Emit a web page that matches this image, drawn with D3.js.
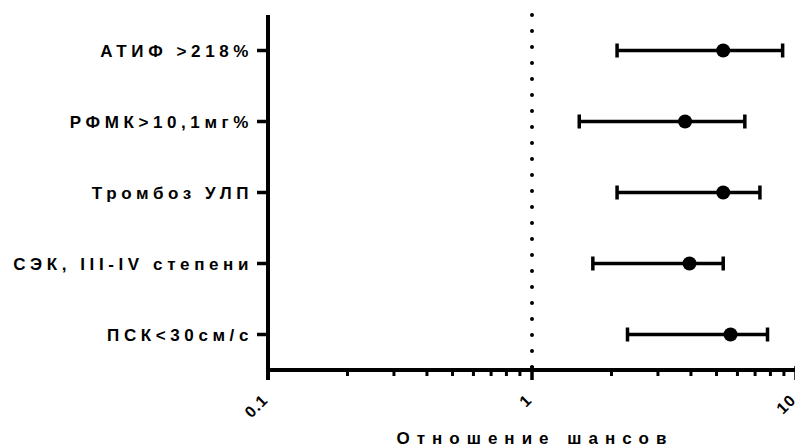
<!DOCTYPE html>
<html>
<head>
<meta charset="utf-8">
<script src="https://cdn.jsdelivr.net/npm/d3@7"></script>
<style>
  body { margin: 0; background: #fff; }
  svg { display: block; }
  text { font-family: "Liberation Sans", Arial, sans-serif; font-weight: bold; fill: #000; }
</style>
</head>
<body>
<svg id="chart" width="795" height="447"></svg>
<script>
// factors, odds ratios and 95% CI
const factors = ['АТИФ >218%', 'РФМК>10,1мг%', 'Тромбоз УЛП', 'СЭК, III-IV степени', 'ПСК<30см/с'];
const oddsRatio = [5.3, 3.8, 5.3, 3.95, 5.65];
const ciLow = [2.1, 1.51, 2.1, 1.7, 2.3];
const ciHigh = [8.9, 6.4, 7.3, 5.3, 7.8];
const xTickValues = [0.1, 1, 10];
const xTickLabels = ['0.1', '1', '10'];

const svg = d3.select('#chart');
const plotLeft = 268, plotRight = 796, plotTop = 15, plotBottom = 370;

const x = d3.scaleLog().domain([0.1, 10]).range([plotLeft, plotRight]);
const y = d3.scalePoint().domain(factors).range([plotTop, plotBottom]).padding(0.5);

const rows = factors.map((f, i) => {
	return {factor: f, or: oddsRatio[i], lo: ciLow[i], hi: ciHigh[i]};
});

// reference line at OR = 1
svg.append('line')
	.attr('x1', x(1)).attr('x2', x(1))
	.attr('y1', plotTop).attr('y2', plotBottom)
	.style('stroke', '#000')
	.style('stroke-width', 4)
	.style('stroke-linecap', 'round')
	.style('stroke-dasharray', '0 16');

// minor ticks
let minor = [];
[0.1, 1].forEach((d) => {
	for (let k = 2; k <= 9; k++) minor.push(d * k);
});

const xAxis = svg.append('g').attr('class', 'x-axis');

xAxis.selectAll('.minor')
	.data(minor)
	.enter().append('line')
	.attr('class', 'minor')
	.attr('x1', (d) => { return x(d); })
	.attr('x2', (d) => { return x(d); })
	.attr('y1', plotBottom)
	.attr('y2', plotBottom + 6)
	.style('stroke', '#000')
	.style('stroke-width', 3);

xAxis.selectAll('.major')
	.data(xTickValues)
	.enter().append('line')
	.attr('class', 'major')
	.attr('x1', (d) => { return x(d); })
	.attr('x2', (d) => { return x(d); })
	.attr('y1', plotBottom - 4)
	.attr('y2', plotBottom + 10)
	.style('stroke', '#000')
	.style('stroke-width', 3.5);

xAxis.append('line')
	.attr('x1', plotLeft - 2).attr('x2', 795)
	.attr('y1', plotBottom).attr('y2', plotBottom)
	.style('stroke', '#000')
	.style('stroke-width', 4);

xAxis.selectAll('.tick-label')
	.data(xTickValues)
	.enter().append('text')
	.attr('class', 'tick-label')
	.attr('transform', (d) => { return 'translate(' + (x(d) + 1) + ',' + (plotBottom + 31) + ') rotate(-45)'; })
	.attr('text-anchor', 'end')
	.style('font-size', '16px')
	.style('letter-spacing', '1px')
	.text((d, i) => { return xTickLabels[i]; });

svg.append('text')
	.attr('x', x(1) + 3)
	.attr('y', 444)
	.attr('text-anchor', 'middle')
	.style('font-size', '17px')
	.style('letter-spacing', '7px')
	.text('Отношение шансов');

// y axis
const yAxis = svg.append('g').attr('class', 'y-axis');

yAxis.append('line')
	.attr('x1', plotLeft).attr('x2', plotLeft)
	.attr('y1', plotTop).attr('y2', plotBottom + 10)
	.style('stroke', '#000')
	.style('stroke-width', 4);

yAxis.selectAll('.ytick')
	.data(factors)
	.enter().append('line')
	.attr('class', 'ytick')
	.attr('x1', plotLeft - 11).attr('x2', plotLeft)
	.attr('y1', (d) => { return y(d); })
	.attr('y2', (d) => { return y(d); })
	.style('stroke', '#000')
	.style('stroke-width', 3.5);

yAxis.selectAll('.ylabel')
	.data(factors)
	.enter().append('text')
	.attr('class', 'ylabel')
	.attr('x', plotLeft - 15)
	.attr('y', (d) => { return y(d); })
	.attr('dy', '0.36em')
	.attr('text-anchor', 'end')
	.style('font-size', '17px')
	.style('letter-spacing', '4.6px')
	.text((d) => { return d; });

// error bars
const bars = svg.append('g').attr('class', 'bars')
	.selectAll('.bar')
	.data(rows)
	.enter().append('g')
	.attr('class', 'bar');

bars.append('line')
	.attr('x1', (d) => { return x(d.lo); })
	.attr('x2', (d) => { return x(d.hi); })
	.attr('y1', (d) => { return y(d.factor); })
	.attr('y2', (d) => { return y(d.factor); })
	.style('stroke', '#000')
	.style('stroke-width', 3.5);

bars.selectAll('.cap')
	.data((d) => { return [d.lo, d.hi].map((v) => { return {v: v, factor: d.factor}; }); })
	.enter().append('line')
	.attr('class', 'cap')
	.attr('x1', (d) => { return x(d.v); })
	.attr('x2', (d) => { return x(d.v); })
	.attr('y1', (d) => { return y(d.factor) - 7; })
	.attr('y2', (d) => { return y(d.factor) + 7; })
	.style('stroke', '#000')
	.style('stroke-width', 3.5);

bars.append('circle')
	.attr('cx', (d) => { return x(d.or); })
	.attr('cy', (d) => { return y(d.factor); })
	.attr('r', 7)
	.style('fill', '#000');
</script>
</body>
</html>
